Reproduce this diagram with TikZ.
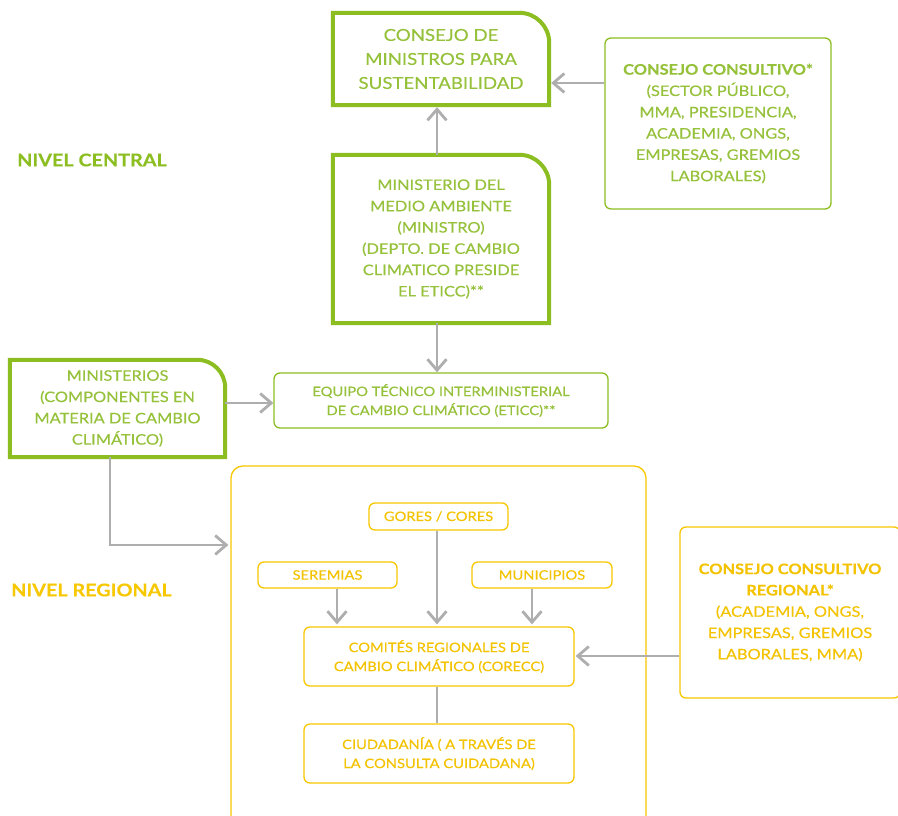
\documentclass[tikz,border=0pt]{standalone}
\usepackage{fontspec}
\setmainfont{Lato}[FakeStretch=1.13, FakeBold=0.35]
\usetikzlibrary{arrows.meta}
\definecolor{gborder}{HTML}{8CBE22}
\definecolor{gtext}{HTML}{96C13A}
\definecolor{ybox}{HTML}{F7C800}
\definecolor{ytext}{HTML}{F4C300}
\definecolor{arrgray}{HTML}{AEAEAE}
\newcommand{\rtrbox}[2][30]{\draw[outline] (#2.south east) -- (#2.south west) -- (#2.north west) -- ([xshift=-#1pt]#2.north east) arc[start angle=90,end angle=0,radius=#1pt] -- cycle;}
\begin{document}
\begin{tikzpicture}[x=1pt,y=1pt,
 thickbox/.style={draw=none, text=gtext, align=center, inner sep=0pt},
 thinG/.style={draw=gborder, line width=1.3pt, rounded corners=6pt, text=gtext, align=center, inner sep=0pt},
 thinY/.style={draw=ybox, line width=1.3pt, rounded corners=6pt, text=ytext, align=center, inner sep=0pt},
 arr/.style={draw=arrgray, line width=2.8pt, -{Straight Barb[length=11pt,width=19pt]}},
 conn/.style={draw=arrgray, line width=2.8pt},
 outline/.style={draw=gborder, line width=4pt},
 big/.style={font=\fontsize{16.5}{24}\selectfont},
 mid/.style={font=\fontsize{14.5}{21.3}\selectfont},
 small/.style={font=\fontsize{13}{19}\selectfont}
]
\useasboundingbox (0,0) rectangle (898,816);
\fill[white] (0,0) rectangle (898,816);

% regional container
\node[thinY, rounded corners=12pt, minimum width=415pt, minimum height=364pt] (reg) at (438.5,168) {};

% central level
\node[thickbox, big, minimum width=216pt, minimum height=92pt] (top) at (441,757)
  {CONSEJO DE\\MINISTROS PARA\\SUSTENTABILIDAD};
\rtrbox{top}

\node[thinG, mid, minimum width=226pt, minimum height=171pt] (cc) at (718,692.5)
  {\textbf{CONSEJO CONSULTIVO*}\\(SECTOR PÚBLICO,\\MMA, PRESIDENCIA,\\ACADEMIA, ONGS,\\EMPRESAS, GREMIOS\\LABORALES)};

\node[thickbox, mid, minimum width=216pt, minimum height=168pt] (mma) at (441,577)
  {MINISTERIO DEL\\MEDIO AMBIENTE\\(MINISTRO)\\(DEPTO. DE CAMBIO\\CLIMATICO PRESIDE\\EL ETICC)**};
\rtrbox{mma}

\node[thinG, small, minimum width=334pt, minimum height=55pt] (eticc) at (441,415.5)
  {EQUIPO TÉCNICO INTERMINISTERIAL\\DE CAMBIO CLIMÁTICO (ETICC)**};

\node[thickbox, mid, minimum width=215pt, minimum height=97pt] (mins) at (117.5,407.5)
  {MINISTERIOS\\(COMPONENTES EN\\MATERIA DE CAMBIO\\CLIMÁTICO)};
\rtrbox[28]{mins}

\node[anchor=west, inner sep=0pt, text=gborder, font=\fontsize{17.5}{19}\selectfont\bfseries] (nc) at (17,656) {NIVEL CENTRAL};
\node[anchor=west, inner sep=0pt, text=ybox, font=\fontsize{17.5}{19}\selectfont\bfseries] (nr) at (11,226) {NIVEL REGIONAL};

% regional level
\node[thinY, small, minimum width=139pt, minimum height=27pt] (gores) at (438.5,299.5) {GORES / CORES};
\node[thinY, small, minimum width=139pt, minimum height=26pt] (ser) at (327.5,241) {SEREMIAS};
\node[thinY, small, minimum width=140pt, minimum height=26pt] (mun) at (542,241) {MUNICIPIOS};
\node[thinY, small, minimum width=270pt, minimum height=59pt] (com) at (439,159.5)
  {COMITÉS REGIONALES DE\\CAMBIO CLIMÁTICO (CORECC)};
\node[thinY, small, minimum width=270pt, minimum height=59pt] (ciu) at (439,62.5)
  {CIUDADANÍA ( A TRAVÉS DE\\LA CONSULTA CUIDADANA)};
\node[thinY, mid, minimum width=220pt, minimum height=171pt] (ccr) at (790,203.5)
  {\textbf{CONSEJO CONSULTIVO}\\\textbf{REGIONAL*}\\(ACADEMIA, ONGS,\\EMPRESAS, GREMIOS\\LABORALES, MMA)};

% connectors
\coordinate (a1) at (437,733);
\draw[arr] (cc.west |- a1) -- ([xshift=2pt]top.east |- a1);
\draw[arr] (mma.north -| a1) -- ([yshift=-2pt]top.south -| a1);
\draw[arr] (mma.south -| a1) -- (eticc.north -| a1);
\coordinate (a2) at (0,413);
\draw[arr] (mins.east |- a2) -- (eticc.west |- a2);
\coordinate (a3) at (110,271);
\draw[arr] (mins.south -| a3) |- ([xshift=-2pt]reg.west |- a3);
\coordinate (a4) at (437,0);
\draw[arr] (gores.south -| a4) -- ([yshift=2pt]com.north -| a4);
\coordinate (a5) at (337,0);
\draw[arr] (ser.south -| a5) -- ([yshift=2pt]com.north -| a5);
\coordinate (a6) at (532,0);
\draw[arr] (mun.south -| a6) -- ([yshift=2pt]com.north -| a6);
\draw[conn] (com.south -| a4) -- (ciu.north -| a4);
\coordinate (a7) at (0,160);
\draw[arr] (ccr.west |- a7) -- ([xshift=1pt]com.east |- a7);
\end{tikzpicture}
\end{document}
